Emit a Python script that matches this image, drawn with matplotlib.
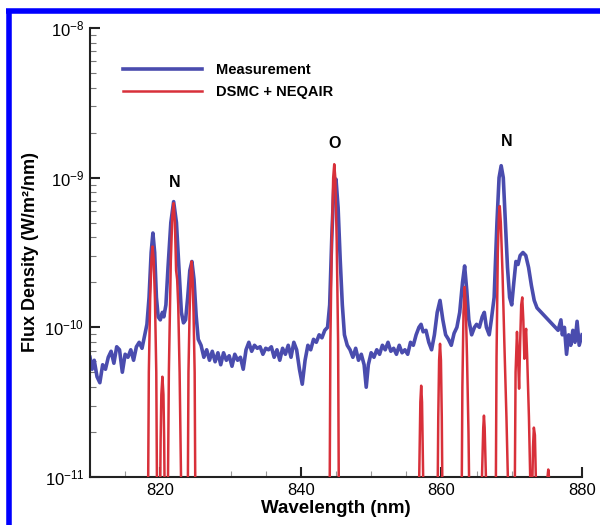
import numpy as np
import matplotlib
matplotlib.use("Agg")
import matplotlib.pyplot as plt
from matplotlib.lines import Line2D
from matplotlib.ticker import LogLocator, LogFormatterMathtext, MultipleLocator, NullFormatter

plt.rcParams['font.family'] = ['Liberation Sans', 'DejaVu Sans']
plt.rcParams['mathtext.fontset'] = 'custom'
plt.rcParams['mathtext.rm'] = 'Liberation Sans'
plt.rcParams['mathtext.bf'] = 'Liberation Sans:bold'

# ---- Measurement (wavelength nm, log10 flux) ----
meas_wl = [810.0, 810.3, 810.6, 811.0, 811.4, 811.8, 812.2, 812.6, 813.0, 813.4, 813.8, 814.2, 814.6,
           815.0, 815.4, 815.8, 816.2, 816.6, 817.0, 817.4, 817.8, 818.1, 818.4, 818.7, 818.95, 819.2,
           819.45, 819.7, 820.0, 820.3, 820.5, 820.8, 821.1, 821.5, 821.9, 822.3, 822.7, 823.0, 823.3,
           823.6, 823.9, 824.2, 824.5, 824.8, 825.1, 825.4, 825.8, 826.2, 826.6, 827.0, 827.4, 827.8,
           828.2, 828.6, 829.0, 829.4, 829.8, 830.2, 830.6, 831.0, 831.4, 831.8, 832.2, 832.6, 833.0,
           833.4, 833.8, 834.2, 834.6, 835.0, 835.4, 835.8, 836.2, 836.6, 837.0, 837.4, 837.8, 838.2,
           838.6, 839.0, 839.4, 839.8, 840.2, 840.6, 841.0, 841.4, 841.8, 842.2, 842.6, 843.0, 843.4,
           843.8, 844.1, 844.4, 844.7, 845.0, 845.3, 845.6, 845.9, 846.2, 846.6, 847.0, 847.4, 847.8,
           848.2, 848.6, 849.0, 849.3, 849.6, 850.0, 850.4, 850.8, 851.2, 851.6, 852.0, 852.4, 852.8,
           853.2, 853.6, 854.0, 854.4, 854.8, 855.2, 855.6, 856.0, 856.4, 856.8, 857.1, 857.4, 857.8,
           858.2, 858.6, 859.0, 859.4, 859.8, 860.2, 860.6, 861.0, 861.4, 861.8, 862.2, 862.6, 863.0,
           863.3, 863.6, 863.9, 864.3, 864.7, 865.0, 865.4, 865.8, 866.1, 866.4, 866.8, 867.1, 867.5,
           867.9, 868.2, 868.5, 868.8, 869.1, 869.4, 869.7, 870.0, 870.3, 870.6, 870.9, 871.2, 871.6,
           872.0, 872.4, 872.8, 873.2, 873.6, 874.2, 875.0, 875.8, 876.6, 877.0, 877.2, 877.5, 877.8,
           878.1, 878.4, 878.7, 879.0, 879.3, 879.6, 880.0]
meas_log = [-10.20, -10.28, -10.22, -10.33, -10.37, -10.25, -10.28, -10.20, -10.16, -10.24, -10.13, -10.15, -10.30,
            -10.18, -10.20, -10.15, -10.22, -10.13, -10.10, -10.14, -10.05, -9.98, -9.80, -9.50, -9.37, -9.50,
            -9.80, -9.93, -9.95, -9.90, -9.93, -9.85, -9.60, -9.30, -9.16, -9.30, -9.65, -9.90, -9.97,
            -9.95, -9.80, -9.62, -9.56, -9.68, -9.92, -10.08, -10.12, -10.20, -10.15, -10.22, -10.16, -10.23,
            -10.17, -10.25, -10.17, -10.22, -10.19, -10.26, -10.18, -10.22, -10.20, -10.28, -10.15, -10.10, -10.16,
            -10.12, -10.14, -10.13, -10.18, -10.14, -10.15, -10.13, -10.20, -10.15, -10.22, -10.14, -10.18, -10.12,
            -10.20, -10.10, -10.15, -10.28, -10.38, -10.22, -10.12, -10.15, -10.08, -10.10, -10.05, -10.07, -10.02,
            -10.00, -9.85, -9.40, -9.05, -9.01, -9.20, -9.55, -9.85, -10.05, -10.12, -10.15, -10.20, -10.14,
            -10.22, -10.18, -10.25, -10.40, -10.25, -10.17, -10.20, -10.15, -10.18, -10.12, -10.15, -10.10, -10.16,
            -10.14, -10.18, -10.12, -10.17, -10.15, -10.18, -10.10, -10.12, -10.05, -10.00, -9.98, -10.03, -10.02,
            -10.10, -10.15, -10.05, -9.90, -9.82, -9.95, -10.05, -10.08, -10.12, -10.04, -10.00, -9.90, -9.70,
            -9.59, -9.75, -9.95, -10.05, -10.00, -9.98, -10.00, -9.93, -9.90, -10.00, -10.05, -9.95, -9.80,
            -9.30, -9.00, -8.92, -9.00, -9.30, -9.60, -9.80, -9.85, -9.70, -9.56, -9.58, -9.52, -9.50,
            -9.52, -9.60, -9.72, -9.82, -9.87, -9.90, -9.94, -9.98, -10.02, -9.95, -10.05, -10.00, -10.18,
            -10.05, -10.12, -10.02, -10.10, -9.96, -10.12, -10.05]

# ---- DSMC + NEQAIR (wavelength nm, log10 flux); -11.6 lies below the axis ----
sim_wl = [817.5,
          818.26, 818.28, 818.37, 818.56, 818.75, 818.9, 819.05, 819.24, 819.43, 819.52, 819.54,
          819.98, 820.0, 820.05, 820.15, 820.3, 820.45, 820.55, 820.6, 820.62,
          821.08, 821.1, 821.22, 821.5, 821.72, 821.9, 822.08, 822.25, 822.4, 822.55, 822.75, 822.95, 822.97,
          823.91, 823.93, 824.01, 824.17, 824.33, 824.45, 824.57, 824.73, 824.89, 824.97, 824.99,
          844.09, 844.11, 844.2, 844.4, 844.6, 844.75, 844.9, 845.1, 845.3, 845.39, 845.41,
          856.82, 856.84, 856.9, 857.0, 857.12, 857.24, 857.34, 857.4, 857.42,
          859.46, 859.48, 859.55, 859.67, 859.8, 859.93, 860.05, 860.12, 860.14,
          862.88, 862.9, 862.98, 863.14, 863.3, 863.46, 863.64, 863.85, 863.93, 863.95,
          865.75, 865.77, 865.85, 865.95, 866.05, 866.15, 866.25, 866.33, 866.35,
          867.73, 867.75, 867.84, 868.02, 868.18, 868.3, 868.45, 868.7, 868.95, 869.25, 869.45, 869.48,
          870.43, 870.45, 870.55, 870.75, 870.9, 871.05, 871.2, 871.35, 871.5, 871.65, 871.8, 871.95,
          872.05, 872.2, 872.45, 872.63, 872.65,
          872.93, 872.95, 873.03, 873.15, 873.3, 873.43, 873.45,
          875.08, 875.1, 875.2, 875.3, 875.32, 876.0]
sim_log = [-11.6,
           -11.6, -11.0, -10.3, -9.81, -9.54, -9.46, -9.54, -9.81, -10.3, -11.0, -11.6,
           -11.6, -11.0, -10.75, -10.45, -10.33, -10.45, -10.75, -11.0, -11.6,
           -11.6, -11.0, -10.3, -9.55, -9.25, -9.17, -9.30, -9.62, -9.68, -9.85, -10.3, -11.0, -11.6,
           -11.6, -11.0, -10.3, -9.90, -9.63, -9.56, -9.63, -9.90, -10.3, -11.0, -11.6,
           -11.6, -11.0, -10.1, -9.42, -9.00, -8.91, -9.00, -9.42, -10.1, -11.0, -11.6,
           -11.6, -11.0, -10.8, -10.5, -10.39, -10.5, -10.8, -11.0, -11.6,
           -11.6, -11.0, -10.6, -10.22, -10.11, -10.22, -10.6, -11.0, -11.6,
           -11.6, -11.0, -10.4, -9.90, -9.73, -9.85, -10.2, -10.7, -11.0, -11.6,
           -11.6, -11.0, -10.85, -10.67, -10.59, -10.67, -10.85, -11.0, -11.6,
           -11.6, -11.0, -10.2, -9.50, -9.25, -9.19, -9.30, -9.65, -10.1, -10.6, -11.0, -11.6,
           -11.6, -11.0, -10.3, -10.03, -10.2, -10.41, -10.1, -9.85, -9.80, -9.95, -10.21, -10.05,
           -10.01, -10.2, -10.6, -11.0, -11.6,
           -11.6, -11.0, -10.8, -10.67, -10.72, -11.0, -11.6,
           -11.6, -11.0, -10.95, -11.0, -11.6, -11.6]

peak_labels = ["N", "O", "N"]
peak_label_wl = [822.1, 844.85, 869.3]
peak_label_log = [-9.03, -8.77, -8.76]

x_major = [820, 840, 860, 880]
x_min, x_max = 810, 880
y_min, y_max = 1e-11, 1e-8

fig = plt.figure(figsize=(6.0, 5.25), dpi=100)
ax = fig.add_axes([90/600, 1-477/525, 492/600, 449/525])

blue = '#4a4cae'
red = '#d8303a'
ax.plot(meas_wl, 10.0**np.array(meas_log), color=blue, lw=2.6, label='Measurement',
        solid_joinstyle='round', zorder=2)
ax.plot(sim_wl, 10.0**np.array(sim_log), color=red, lw=1.8, linestyle='-',
        label='DSMC + NEQAIR', zorder=3)

ax.set_yscale('log')
ax.set_xlim(x_min, x_max)
ax.set_ylim(y_min, y_max)
ax.set_xticks(x_major)
ax.xaxis.set_minor_locator(MultipleLocator(5))
ax.yaxis.set_major_locator(LogLocator(base=10))
ax.yaxis.set_minor_locator(LogLocator(base=10, subs=np.arange(2, 10)))
ax.yaxis.set_major_formatter(LogFormatterMathtext())
ax.yaxis.set_minor_formatter(NullFormatter())

for s in ['top', 'right']:
    ax.spines[s].set_visible(False)
for s in ['left', 'bottom']:
    ax.spines[s].set_linewidth(1.5)
    ax.spines[s].set_color('#222222')

ax.tick_params(axis='both', which='major', direction='in', length=7, width=1.5,
               labelsize=12, color='#222222', pad=4)
ax.tick_params(axis='y', which='minor', direction='in', length=4, width=0.8, color='#777777')
ax.tick_params(axis='x', which='minor', direction='in', length=4, width=0.8, color='#999999')

ax.set_xlabel('Wavelength (nm)', fontsize=13.5, fontweight='bold', labelpad=2)
ax.set_ylabel('Flux Density (W/m²/nm)', fontsize=13, fontweight='bold')
ax.yaxis.set_label_coords((39 - 90) / 492, 0.5)

for lab, lx, ly in zip(peak_labels, peak_label_wl, peak_label_log):
    ax.text(lx, 10.0**ly, lab, ha='center', va='center', fontsize=11.5, fontweight='bold')

leg = ax.legend(loc='upper left', bbox_to_anchor=((123-90)/492, (477-63)/449), frameon=False,
                handlelength=5.4, handletextpad=1.0, labelspacing=0.55, borderpad=0,
                borderaxespad=0, prop={'weight': 'bold', 'size': 10.5})

# blue frame of the original picture
fig.add_artist(Line2D([6/600, 1.0], [1-10.5/525, 1-10.5/525], transform=fig.transFigure,
                      color='#0000ff', lw=4.0, solid_capstyle='butt'))
fig.add_artist(Line2D([9/600, 9/600], [0.0, 1-8.5/525], transform=fig.transFigure,
                      color='#0000ff', lw=4.0, solid_capstyle='butt'))

fig.savefig('out.png', dpi=100)
